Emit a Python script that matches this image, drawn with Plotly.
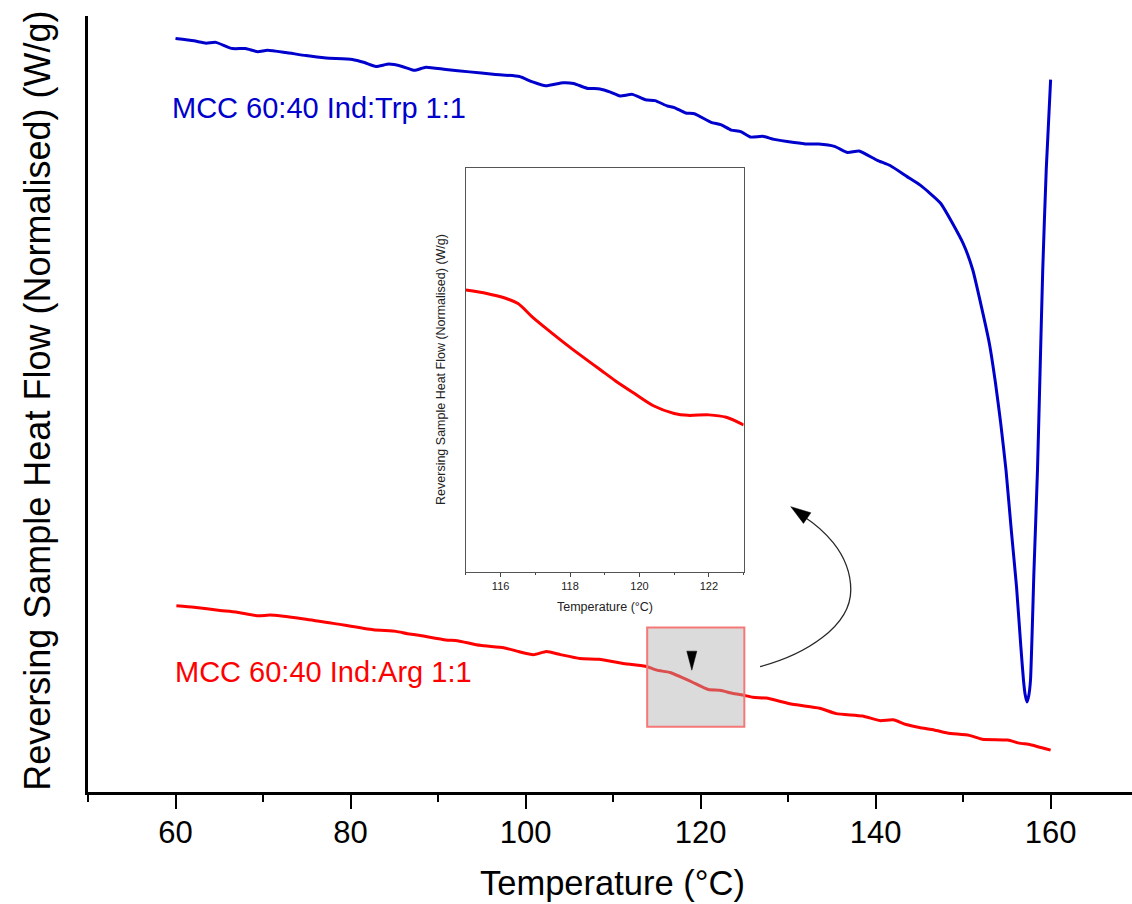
import plotly.graph_objects as go

# ---------------- data ----------------
temp_trp = [60.0, 62.1, 63.5, 64.6, 66.5, 68.0, 69.4, 70.5, 72.6, 74.9, 77.2, 80.2, 81.6, 82.9,
            84.4, 85.9, 87.3, 88.6, 90.9, 93.6, 96.3, 99.3, 100.8, 102.3, 104.3, 105.5, 107.0,
            108.5, 109.7, 110.8, 112.2, 113.7, 114.8, 116.2, 117.0, 118.3, 119.3, 121.2, 122.3,
            123.5, 124.6, 125.7, 127.1, 128.4, 130.7, 132.2, 133.5, 135.3, 136.8, 138.1, 140.2,
            141.7, 143.6, 145.1, 147.4, 150.0, 151.1, 152.0, 153.0, 153.7, 154.3, 154.9, 155.5,
            156.1, 156.6, 156.9, 157.1, 157.3, 157.5, 157.7, 158.1, 158.5, 158.8, 159.1, 159.5, 160.0]
hf_trp = [97.1, 96.8, 96.5, 96.6, 95.8, 95.8, 95.4, 95.6, 95.3, 94.9, 94.6, 94.4, 94.0, 93.5,
          93.8, 93.5, 93.0, 93.4, 93.1, 92.8, 92.5, 92.2, 91.5, 91.0, 91.4, 91.3, 90.7,
          90.6, 90.2, 89.7, 89.9, 89.2, 89.1, 88.4, 88.2, 87.5, 87.4, 86.3, 86.0,
          85.3, 85.1, 84.4, 84.5, 84.1, 83.7, 83.5, 83.5, 83.2, 82.4, 82.6, 81.4,
          80.7, 79.3, 78.2, 75.9, 70.7, 67.3, 63.0, 57.8, 52.7, 47.5, 41.5, 33.8,
          26.5, 18.7, 14.4, 12.5, 11.6, 12.4, 14.4, 28.6, 41.5, 54.4, 67.3, 80.2, 91.8]

temp_arg = [60.1, 62.1, 65.1, 66.9, 69.5, 70.8, 74.7, 78.2, 82.6, 85.2, 86.5, 87.8, 90.9, 92.2,
            94.8, 97.5, 99.2, 100.9, 102.4, 104.0, 106.2, 108.4, 111.0, 113.7, 115.0, 116.5,
            118.8, 120.9, 122.2, 123.7, 124.8, 126.0, 127.5, 130.5, 133.6, 135.5, 138.5, 140.5,
            142.0, 143.5, 145.0, 146.7, 148.2, 150.7, 152.2, 155.1, 156.4, 157.7, 160.0]
hf_arg = [24.0, 23.8, 23.4, 23.2, 22.7, 22.8, 22.3, 21.7, 20.9, 20.7, 20.4, 20.2, 19.6, 19.5,
          18.9, 18.6, 18.1, 17.7, 18.1, 17.7, 17.2, 17.1, 16.6, 16.2, 15.7, 15.4,
          14.3, 13.2, 13.1, 12.7, 12.5, 12.2, 12.1, 11.3, 10.8, 10.1, 9.8, 9.2,
          9.3, 8.7, 8.3, 8.0, 7.6, 7.3, 6.8, 6.7, 6.3, 6.1, 5.4]

temp_inset = [115.0, 115.6, 116.1, 116.5, 116.9, 117.3, 118.0, 118.9, 119.3, 119.8, 120.4,
              121.0, 121.4, 122.0, 122.5, 123.0]
hf_inset = [15.70, 15.63, 15.54, 15.42, 15.15, 14.91, 14.51, 14.03, 13.82, 13.58, 13.30,
            13.14, 13.10, 13.11, 13.06, 12.90]

main_xticks = [60, 80, 100, 120, 140, 160]
inset_xticks = [116, 118, 120, 122]
zoom_window = [113.9, 125.0, 8.4, 21.2]   # x0, x1, y0, y1 of highlighted region
label_trp = "MCC 60:40 Ind:Trp 1:1"
label_arg = "MCC 60:40 Ind:Arg 1:1"
y_title = "Reversing Sample Heat Flow (Normalised) (W/g)"
x_title = "Temperature (°C)"

BLUE = "rgb(0,0,204)"
RED = "rgb(255,0,0)"
FONT = "Liberation Sans, Arial, sans-serif"

fig = go.Figure()
fig.add_trace(go.Scatter(x=temp_trp, y=hf_trp, mode="lines",
                         line=dict(color=BLUE, width=3, shape="spline", smoothing=0.5),
                         showlegend=False, hoverinfo="skip"))
fig.add_trace(go.Scatter(x=temp_arg, y=hf_arg, mode="lines",
                         line=dict(color=RED, width=3, shape="spline", smoothing=0.5),
                         showlegend=False, hoverinfo="skip"))
fig.add_trace(go.Scatter(x=temp_inset, y=hf_inset, mode="lines", xaxis="x2", yaxis="y2",
                         line=dict(color=RED, width=3, shape="spline", smoothing=0.8),
                         showlegend=False, hoverinfo="skip"))

# highlighted region (drawn above red line)
fig.add_shape(type="rect", xref="x", yref="y",
              x0=zoom_window[0], x1=zoom_window[1], y0=zoom_window[2], y1=zoom_window[3],
              fillcolor="rgba(175,175,175,0.45)", line=dict(color="rgb(245,120,120)", width=2),
              layer="above")

# small down-pointing marker inside the box
fig.add_shape(type="path", xref="x", yref="y", xsizemode="pixel", ysizemode="pixel",
              xanchor=119.0, yanchor=15.7,
              path="M -5,19 L 5,19 L 0,0 Z", fillcolor="black", line=dict(color="black", width=0.5),
              layer="above")

# curved arrow from box to inset
fig.add_shape(type="path", xref="x", yref="y", xsizemode="pixel", ysizemode="pixel",
              xanchor=126.8, yanchor=16.15,
              path="M 0,0 C 45,12 90.7,40 90.7,76.7 C 90.7,115 59.4,140 44,150",
              line=dict(color="rgb(40,40,40)", width=1.3), layer="above")
fig.add_shape(type="path", xref="x", yref="y", xsizemode="pixel", ysizemode="pixel",
              xanchor=126.8, yanchor=16.15,
              path="M 30.7,160 L 50.8,153.9 L 43.4,143.3 Z",
              fillcolor="black", line=dict(color="black", width=0.5), layer="above")

# curve labels
fig.add_annotation(x=59.35, y=88.1, xref="x", yref="y", text=label_trp, showarrow=False,
                   xanchor="left", yanchor="middle", font=dict(family=FONT, size=29, color=BLUE))
fig.add_annotation(x=59.75, y=15.5, xref="x", yref="y", text=label_arg, showarrow=False,
                   xanchor="left", yanchor="middle", font=dict(family=FONT, size=29, color=RED))

# axis titles
fig.add_annotation(x=0.5025, y=-0.1175, xref="paper", yref="paper", text=x_title, showarrow=False,
                   xanchor="center", yanchor="middle", font=dict(family=FONT, size=34.5, color="black"))
fig.add_annotation(x=-0.048, y=0.504, xref="paper", yref="paper", text=y_title, showarrow=False,
                   textangle=-90, xanchor="center", yanchor="middle",
                   font=dict(family=FONT, size=36, color="black"))

# inset titles
fig.add_annotation(x=(115 + 123) / 2, y=0.239, xref="x2", yref="paper", text=x_title, showarrow=False,
                   xanchor="center", yanchor="middle", font=dict(family=FONT, size=12.5, color="#222"))
fig.add_annotation(x=0.338, y=0.545, xref="paper", yref="paper", text=y_title, showarrow=False,
                   textangle=-90, xanchor="center", yanchor="middle",
                   font=dict(family=FONT, size=12.5, color="#222"))

fig.update_layout(
    width=1132, height=904,
    margin=dict(l=88, r=0, t=16, b=112, pad=0),
    paper_bgcolor="white", plot_bgcolor="white",
    font=dict(family=FONT, color="black"),
    xaxis=dict(range=[50, 169.3], showgrid=False, zeroline=False,
               showline=True, linecolor="black", linewidth=2.5,
               tickmode="array", tickvals=main_xticks, ticks="outside", ticklen=14, tickwidth=2,
               tickcolor="black", tickfont=dict(family=FONT, size=31, color="black"),
               ticklabelstandoff=-3,
               minor=dict(dtick=10, tick0=50, ticks="outside", ticklen=7, tickwidth=2, tickcolor="black"),
               domain=[0, 1]),
    yaxis=dict(range=[0, 100], showgrid=False, zeroline=False, showticklabels=False,
               showline=True, linecolor="black", linewidth=2.5, ticks=""),
    xaxis2=dict(domain=[0.362, 0.628], anchor="y2", range=[115, 123], showgrid=False,
                zeroline=False, showline=True, mirror=True, linecolor="#555", linewidth=1.3,
                tickmode="array", tickvals=inset_xticks, ticks="outside", ticklen=4, tickwidth=1,
                tickcolor="#444", tickfont=dict(family=FONT, size=11, color="#222"),
                minor=dict(dtick=1, tick0=115, ticks="outside", ticklen=2, tickwidth=1, tickcolor="#444")),
    yaxis2=dict(domain=[0.2835, 0.804], anchor="x2", range=[9.85, 18.23], showgrid=False,
                zeroline=False, showline=True, mirror=True, linecolor="#555", linewidth=1.3,
                showticklabels=False, ticks=""),
)

fig.write_html("out.html", config={"displayModeBar": False},
               post_script="document.body.style.margin='0';document.body.style.overflow='hidden';")
